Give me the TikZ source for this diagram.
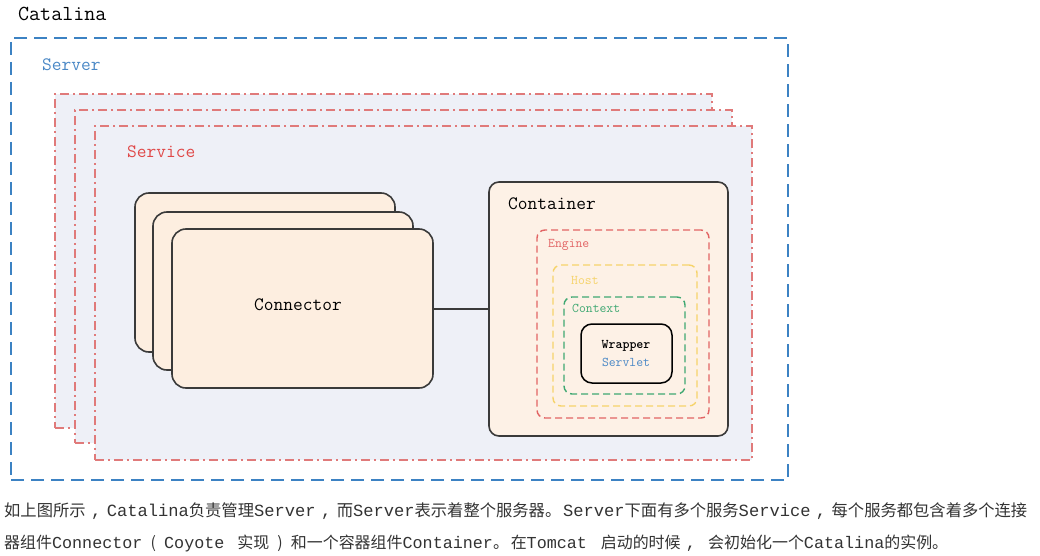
\documentclass[tikz,border=0pt]{standalone}
\usepackage{fontspec}
\setmainfont{Liberation Mono}
\newfontfamily\cjk{Noto Sans CJK SC}
\newfontfamily\mono{Liberation Mono}
\definecolor{serverblue}{HTML}{3C82C3}
\definecolor{servertext}{HTML}{4A88C6}
\definecolor{svcred}{HTML}{E07A7A}
\definecolor{svctext}{HTML}{E04848}
\definecolor{svcfill}{HTML}{EEF0F7}
\definecolor{peach}{HTML}{FDEEE0}
\definecolor{contfill}{HTML}{FDF1E6}
\definecolor{engred}{HTML}{E26464}
\definecolor{hostyel}{HTML}{F6D36A}
\definecolor{ctxgreen}{HTML}{3FA872}
\definecolor{edgegray}{HTML}{3A3A3A}
\definecolor{bodytext}{HTML}{333333}
\newcommand\zh[1]{{\cjk\fontsize{16.2}{18}\selectfont #1}}
\newcommand\en[1]{{\mono\fontsize{17}{18}\selectfont #1}}
\newcommand\fwc[1]{\makebox[21pt][c]{\en{#1}}}
\newcommand\fwp[1]{\makebox[22pt][c]{\zh{#1}}}
\newcommand\fwd{\makebox[18pt][l]{\zh{。}}}
\tikzset{
  box/.style={rectangle, inner sep=0pt, outer sep=0pt},
  serverbox/.style={box, draw=serverblue, line width=1.8pt, dash pattern=on 13pt off 7pt},
  servicebox/.style={box, draw=svcred, fill=svcfill, line width=1.4pt, dash pattern=on 9pt off 4pt on 2pt off 4pt},
  connbox/.style={box, draw=edgegray, fill=peach, line width=1.6pt, rounded corners=14pt},
  contbox/.style={box, draw=edgegray, fill=contfill, line width=1.6pt, rounded corners=10pt},
  innerbox/.style={box, line width=1.4pt, dash pattern=on 7pt off 4pt, rounded corners=8pt},
  lbl/.style={anchor=west, inner sep=0pt},
  bigfont/.style={font=\ttfamily\fontsize{18.9}{20}\selectfont},
  smallfont/.style={font=\ttfamily\fontsize{13.3}{15}\selectfont},
}
\begin{document}
\begin{tikzpicture}[x=1pt,y=-1pt]
\useasboundingbox[fill=white] (0,0) rectangle (1040,556);

\node[lbl, text=black, font=\ttfamily\fontsize{21.4}{23}\selectfont] (catalina) at (18,14) {Catalina};

\node[serverbox, minimum width=777pt, minimum height=442pt] (server) at (399.5,259) {};
\node[lbl, text=servertext, bigfont] (serverlbl) at (42,65) {Server};

\node[servicebox, minimum width=657pt, minimum height=334pt] (svc1) at (383.5,261) {};
\node[servicebox, minimum width=657pt, minimum height=333pt] (svc2) at (403.5,276.5) {};
\node[servicebox, minimum width=657pt, minimum height=334pt] (svc3) at (423.5,293) {};
\node[lbl, text=svctext, bigfont] (svclbl) at (127,152) {Service};

\node[connbox, minimum width=260pt, minimum height=159pt] (con1) at (265,272.5) {};
\node[connbox, minimum width=260pt, minimum height=158pt] (con2) at (283,291) {};
\node[connbox, minimum width=261pt, minimum height=159pt] (con3) at (302.5,308.5) {};
\node[bigfont, inner sep=0pt] (conlbl) at (298,305) {Connector};

\node[contbox, minimum width=239pt, minimum height=254pt] (cont) at (608.5,309) {};
\node[lbl, bigfont] (contlbl) at (508,204) {Container};

\draw[edgegray, line width=2pt] (con3.east) -- (con3.east -| cont.west);

\node[innerbox, draw=engred, minimum width=172pt, minimum height=188pt] (engine) at (623,324) {};
\node[lbl, text=engred, smallfont] (englbl) at (548,245) {Engine};
\node[innerbox, draw=hostyel, minimum width=144pt, minimum height=141pt] (host) at (625,335.5) {};
\node[lbl, text=hostyel, smallfont] (hostlbl) at (571,280) {Host};
\node[innerbox, draw=ctxgreen, minimum width=121pt, minimum height=97pt] (context) at (624.5,345.5) {};
\node[lbl, text=ctxgreen, smallfont] (ctxlbl) at (572,308) {Context};
\node[box, draw=black, line width=1.5pt, rounded corners=11pt, minimum width=91pt, minimum height=59pt] (wrapper) at (626.5,353.5) {};
\node[font=\ttfamily\bfseries\fontsize{13.3}{15}\selectfont, inner sep=0pt] (wraplbl) at (626,346) {Wrapper};
\node[text=servertext, smallfont, inner sep=0pt] (servletlbl) at (626,362) {Servlet};

\node[lbl, text=bodytext] (line1) at (4,511) {\resizebox{1023pt}{!}{\zh{如上图所示}\fwc{,}\en{Catalina}\zh{负责管理}\en{Server}\fwc{,}\zh{而}\en{Server}\zh{表示着整个服务器}\fwd\en{Server}\zh{下面有多个服务}\en{Service}\fwc{,}\zh{每个服务都包含着多个连接}}};
\node[lbl, text=bodytext] (line2) at (4,543) {\resizebox{944pt}{!}{\zh{器组件}\en{Connector}\fwp{(}\en{Coyote}\hspace{13pt}\zh{实现}\fwp{)}\zh{和一个容器组件}\en{Container}\fwd\zh{在}\en{Tomcat}\hspace{14pt}\zh{启动的时候}\fwc{,}\hspace{7pt}\zh{会初始化一个}\en{Catalina}\zh{的实例。}}};
\end{tikzpicture}
\end{document}
